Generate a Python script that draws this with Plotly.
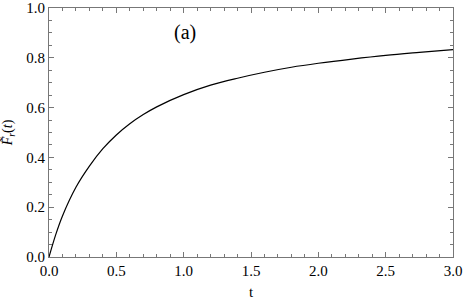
import plotly.graph_objects as go

# values
t_vals = [0.0, 0.05, 0.1, 0.2, 0.3, 0.4, 0.5, 0.6, 0.7, 0.8, 1.0, 1.2,
          1.4, 1.6, 1.8, 2.0, 2.25, 2.5, 2.75, 3.0]
f_vals = [0.0, 0.09, 0.165, 0.28, 0.365, 0.435, 0.49, 0.535, 0.572, 0.603,
          0.652, 0.69, 0.718, 0.742, 0.762, 0.778, 0.795, 0.81, 0.822, 0.833]

x_ticks = [0.0, 0.5, 1.0, 1.5, 2.0, 2.5, 3.0]
y_ticks = [0.0, 0.2, 0.4, 0.6, 0.8, 1.0]

FONT = "Times New Roman"
AXIS_COL = "#777777"

fig = go.Figure(go.Scatter(
    x=t_vals, y=f_vals, mode="lines",
    line=dict(color="black", width=1.2, shape="spline", smoothing=1.0),
    hoverinfo="skip",
))

axis_style = dict(
    showline=True, linecolor=AXIS_COL, linewidth=1, mirror="allticks",
    ticks="inside", ticklen=5, tickcolor=AXIS_COL, tickwidth=1,
    showgrid=False, zeroline=False, automargin=False,
    tickfont=dict(family=FONT, size=15, color="black"),
)

fig.update_layout(
    width=463, height=300,
    margin=dict(l=49, r=10, t=8, b=43),
    paper_bgcolor="white", plot_bgcolor="white",
    showlegend=False,
    font=dict(family=FONT, size=15, color="black"),
    xaxis=dict(
        **axis_style, range=[0, 3], tickvals=x_ticks,
        ticktext=[f"{v:.1f}" for v in x_ticks],
        minor=dict(dtick=0.1, ticks="inside", ticklen=3, tickcolor=AXIS_COL),
        title=dict(text="t", font=dict(family=FONT, size=15), standoff=10),
    ),
    yaxis=dict(
        **axis_style, range=[0, 1], tickvals=y_ticks,
        ticktext=[f"{v:.1f}" for v in y_ticks],
        minor=dict(dtick=0.05, ticks="inside", ticklen=3, tickcolor=AXIS_COL),
        title=dict(text="<i>F\u0303</i><sub><i>r</i></sub>(<i>t</i>)",
                   font=dict(family=FONT, size=14), standoff=16),
    ),
    annotations=[dict(
        text="(a)", x=0.91, y=0.9, xref="x", yref="y",
        showarrow=False, font=dict(family=FONT, size=20, color="black"),
        xanchor="left", yanchor="middle",
    )],
)

# page body has a default 8px margin; drop it so the figure sits at 0,0
fig.write_html("out.html", config={"displayModeBar": False},
               post_script="document.body.style.margin='0';")
